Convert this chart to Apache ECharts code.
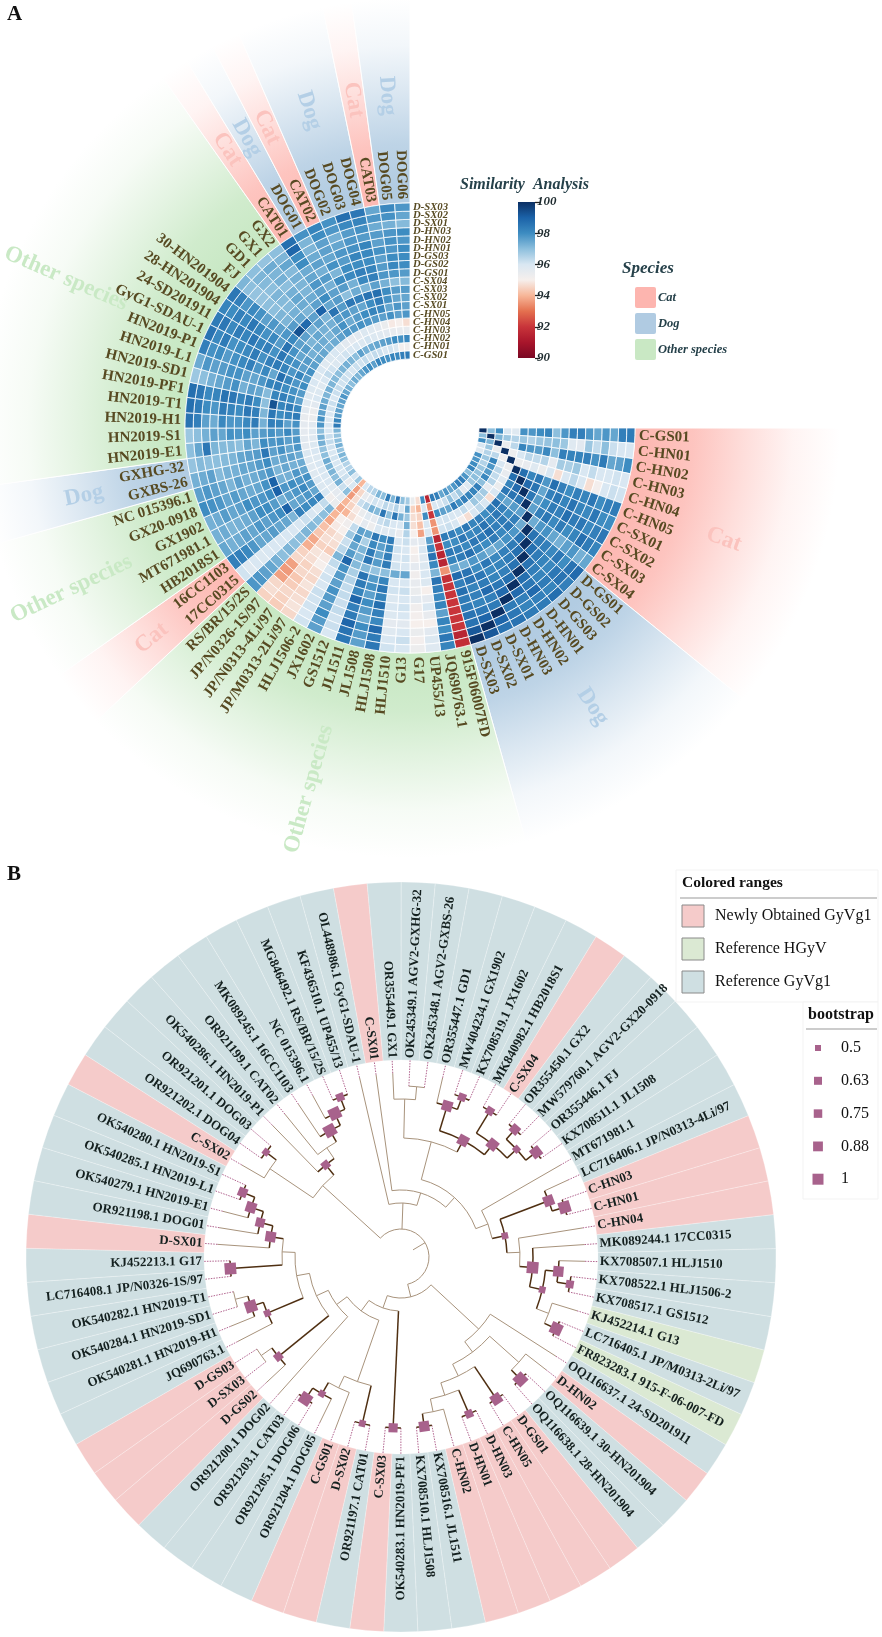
<!DOCTYPE html>
<html><head><meta charset="utf-8">
<style>html,body{margin:0;padding:0;background:#fff}#c{width:882px;height:1637px}</style>
<script src="https://cdn.jsdelivr.net/npm/echarts@6/dist/echarts.min.js"></script>
</head><body><div id="c"></div>
<script>
const rowNames=['C-GS01','C-HN01','C-HN02','C-HN03','C-HN04','C-HN05','C-SX01','C-SX02','C-SX03','C-SX04','D-GS01','D-GS02','D-GS03','D-HN01','D-HN02','D-HN03','D-SX01','D-SX02','D-SX03'];
const colNames=['C-GS01','C-HN01','C-HN02','C-HN03','C-HN04','C-HN05','C-SX01','C-SX02','C-SX03','C-SX04','D-GS01','D-GS02','D-GS03','D-HN01','D-HN02','D-HN03','D-SX01','D-SX02','D-SX03','915F06007FD','JQ690763.1','UP455/13','G17','G13','HLJ1510','HLJ1508','JL1508','JL1511','GS1512','JX1602','HLJ1506-2','JP/M0313-2Li/97','JP/N0313-4Li/97','JP/N0326-1S/97','RS/BR/15/2S','17CC0315','16CC1103','HB2018S1','MT671981.1','GX1902','GX20-0918','NC 015396.1','GXBS-26','GXHG-32','HN2019-E1','HN2019-S1','HN2019-H1','HN2019-T1','HN2019-PF1','HN2019-SD1','HN2019-L1','HN2019-P1','GyG1-SDAU-1','24-SD201911','28-HN201904','30-HN201904','FJ','GD1','GX1','GX2','CAT01','DOG01','CAT02','DOG02','DOG03','DOG04','CAT03','DOG05','DOG06'];
const simCols=[
[100,97,98,96,95.8,97.9,97.8,98,98.2,97,97.8,98.3,98.3,97.8,97.5,97.8,97.5,98.3,98.4],
[97,100,97.2,96.8,96.5,96.8,96.5,96.8,96.9,97,96.8,95.8,95.7,96.8,96.3,97,96.2,96,96],
[98,97.2,100,95.4,96.4,98.2,97.8,97.7,98.1,97,98.3,98.2,98.2,98.3,97.9,98.4,97.5,97.6,98],
[96,96.8,95.4,100,95.3,96,96.4,96.3,96.5,95.6,96.7,96.6,96.8,96,96.3,96,96,96.1,96],
[95.8,96.5,96.4,95.3,100,95.4,95.5,95.8,95.4,96,94.7,96,96.4,96,94.7,95.1,96,96.2,96.1],
[97.9,96.8,98.2,96,95.4,100,98.7,98.2,98.5,97.8,98.7,98.3,98,98.3,98.2,98.5,98,98.3,98.4],
[97.8,96.5,97.8,96.4,95.5,98.7,100,98.8,98.6,97.5,98.3,98.5,98.2,98.6,98.2,98.1,98.5,98,98],
[98,96.8,97.7,96.3,95.8,98.2,98.8,100,98.5,97.7,98,98.4,98.3,98.7,98.4,98.5,98.1,98.3,98.5],
[98.2,96.9,98.1,96.5,95.4,98.5,98.6,98.5,100,97.6,98.3,98.5,98.1,98.4,98,98.2,98.7,98.4,98.2],
[97,97,97,95.6,96,97.8,97.5,97.7,97.6,100,97.4,97.8,97.9,97.5,97.3,97.6,97.8,97.3,97.5],
[97.8,96.8,98.3,96.7,94.7,98.7,98.3,98,98.3,97.4,100,98.6,98.4,98.3,98.1,98.5,98,98.6,98.8],
[98.3,95.8,98.2,96.6,96,98.3,98.5,98.4,98.5,97.8,98.6,100,98.7,98.4,98.2,98.1,98.5,98.6,98.3],
[98.3,95.7,98.2,96.8,96.4,98,98.2,98.3,98.1,97.9,98.4,98.7,100,98.6,98.3,98.2,98.4,98.2,98.7],
[97.8,96.8,98.3,96,96,98.3,98.6,98.7,98.4,97.5,98.3,98.4,98.6,100,98.7,98.5,98.8,98.3,98.4],
[97.5,96.3,97.9,96.3,94.7,98.2,98.2,98.4,98,97.3,98.1,98.2,98.3,98.7,100,98.8,98.3,98.2,98.4],
[97.8,97,98.4,96,95.1,98.5,98.1,98.5,98.2,97.6,98.5,98.1,98.2,98.5,98.8,100,98.4,98.5,98.6],
[97.5,96.2,97.5,96,96,98,98.5,98.1,98.7,97.8,98,98.5,98.4,98.8,98.3,98.4,100,98.9,98.6],
[98.3,96,97.6,96.1,96.2,98.3,98,98.3,98.4,97.3,98.6,98.6,98.2,98.3,98.2,98.5,98.9,100,99.2],
[98.4,96,98,96,96.1,98.4,98,98.5,98.2,97.5,98.8,98.3,98.7,98.4,98.4,98.6,98.6,99.2,100],
[91.5,93.4,92,93.5,93.5,91.5,92,91.5,91.5,93.5,91.8,92,92,92,92,92,92,91.5,91.8],
[98,96,98,96,95.9,97.6,98.1,98.6,98.1,97.2,98.6,98.3,98.1,98.2,97.6,98.2,98,98.5,98.2],
[94.7,94,94.5,94.2,93.7,95.7,96,95.8,95.9,96,95.9,95,95.6,96,95.5,95,95.7,95.9,95.8],
[95.4,94.5,94.7,94.7,95,95.6,95,95.2,95.6,95.2,95.5,95.4,95.7,95.2,95.1,95,95.4,95.1,95.3],
[96.7,97.5,96.8,97.3,96.5,96.2,96,96.1,96,97.5,96,96.2,96,96.1,96,95.7,96,96.2,96],
[97,96,97.3,96,95.5,96,96.1,96,96.1,97.4,96,96.1,95.9,96,95.9,95.6,95.8,96,96.1],
[98.5,96.5,98.5,96,95.9,98.4,98.1,98.3,98.4,97,98.2,98.5,98.2,98.7,98.3,98.1,98.8,98.4,98.5],
[97.2,96.2,97,96.4,95.8,98,97.6,97.5,97.7,96.9,97.7,97.9,97.6,98,97.7,97.4,98,97.7,97.6],
[98.4,96.4,98.5,96.2,96,98.5,98.1,98.4,98.5,97.1,98.6,98.4,98.2,98.9,98.3,98.4,98.9,98.6,98.5],
[97,96,97.1,95.6,95.3,97.5,96.6,97.2,97.1,97.1,96.6,96.5,96.3,96.3,96.2,96.3,96.1,96.2,96],
[97.2,96.1,97.3,95.8,95.6,97.6,97.9,97.5,97.7,98.9,97.9,97.7,97.6,97.9,97.7,97.6,98,97.7,97.6],
[96.5,95.7,96.5,95.4,95,96.3,96.8,96.2,96.4,97.2,96.3,96,96.1,96,96.2,96.1,96.1,96,96.1],
[96.4,95.5,96.2,94.9,94.7,95.2,95,94.8,94.7,94.4,94.9,95,94.7,94.6,94.8,94.6,94.7,94.8,94.6],
[96,94.6,94.7,94.5,94,95,94.9,94.6,94.7,94.5,94.8,94.7,94.5,94.6,94.3,94.4,94.6,94.5,94.4],
[94,93.7,93.6,94,93.8,94,93.8,94.2,94.3,93.8,93.9,94.5,94.6,93.7,93.6,93.7,94.6,94.7,94.5],
[96.8,96,97,95.7,95.4,97.2,97,97,97.1,97.2,97,97,97.2,97,97.3,97.5,97.6,97.8,97.8],
[96,95.5,96.2,95.6,95.2,96.3,95.8,96,96.2,96,96,96,96,96,96,95.9,96,95.8,96.1],
[97,96.2,97.3,95.8,96,98.3,98.1,98,98.3,97.2,97.5,97.5,97.7,97.5,97.5,97.8,98.1,98.3,98.3],
[96.5,96,97,96,95.9,97.5,97.8,97.6,97.5,99,98,97.8,97.6,97.8,97.5,97.6,97.4,97.3,97.5],
[96.5,96.1,97.2,96,96,97.7,98.1,97.8,97.6,97.3,97.7,98,98,97.6,97.4,97.3,97.2,97.4,97.3],
[97,96,97.2,96,95.8,97.9,97.8,98,97.8,99,98,97.8,97.8,98,97.6,97.5,97.7,97.4,97.3],
[97.2,96.1,97.4,96,95.8,97.5,97.8,97.3,97.3,99,97.9,97.5,97.4,97.5,97.7,97.5,97.8,97.9,98],
[96.9,96,97,95.9,95.9,97.4,97.3,97.5,97.2,97.8,97.6,97.4,97.3,97.6,97.2,97.5,97.6,97.8,97.6],
[97.3,96.1,96.9,96,95.9,97.4,97.6,97.5,97.4,98,97.7,97.5,97.5,97.3,97.3,97.1,97.6,97.4,97.3],
[97,96.3,97.3,95.9,95.7,97.8,97.5,97.9,97.6,98.5,97.7,97.6,97.5,97.2,97.1,97,97,97.1,96.9],
[96.9,96.2,97.3,95.8,95.7,97.8,97.6,97.9,97.8,98,97.2,97.5,97,97.1,97.1,97.2,98.5,97.5,97],
[97.2,96,97,95.8,95.6,97.7,98.1,97.7,97.9,97.7,97.6,98,97.8,97.9,97.5,97.6,97.3,97,96.8],
[98.4,96,97.8,95.7,95.6,97.9,97.6,98.2,98.3,97.3,98.4,98.1,97.8,97.8,98.1,97.4,97.6,98.3,98.6],
[98.2,95.9,97.9,95.4,95.5,98.4,98.2,98,98.5,97.2,98.3,98.5,98,98.2,98.4,97.8,98,98.4,98.7],
[97.7,96,97.6,95.4,95.7,98.1,98.4,98.2,99.3,97,98,98.4,98.2,98.5,98.6,98.2,98.1,98.5,98.7],
[97.6,96.1,97.6,95.7,95.8,97.6,98,98.3,98.2,97.1,97.5,97.6,97.3,97.9,97.7,97.5,97.3,97,96.8],
[97.5,96.2,97.4,96,95.8,97.7,97.9,98,98.3,98.2,97.8,97.5,97.6,97.9,97.9,97.7,97.6,97.8,97.4],
[97.6,96,97.2,95.9,95.9,98,97.8,98.2,98.7,97.5,98.1,97.8,98.3,98.1,97.9,97.7,98,97.9,98.3],
[97.8,96.2,97.3,95.8,96,97.7,98.2,97.8,98.2,98.4,98.3,97.9,98.4,98.1,98,97.9,98.4,98.1,98.6],
[97.5,96.3,97.2,96,95.9,97.9,97.6,97.9,98,98.5,97.9,98.3,98.2,98.5,98.2,98.4,98.1,98.5,98.4],
[97.3,96.1,97.1,96.3,96,97.6,97.7,97.5,97.9,98.6,97.7,98.1,97.9,98.2,98.5,98.1,98.3,98,98.2],
[97,96.2,97,96.1,95.8,97.5,97.3,97.7,97.6,98.1,97.8,97.6,97.8,97.6,97.9,98.1,97.8,98.3,98.5],
[97.4,96.1,97.2,95.9,95.9,97.5,97.4,97.2,97.6,99.3,97.7,97.2,97.2,97,97,96.9,96.9,97,97.2],
[97.2,96,97.3,96,96,97.3,97.4,97.5,97.3,98.8,97.5,97.3,97.1,97.1,97.2,97,97.1,97.2,97],
[97.5,96.2,97.2,96.1,95.8,97.4,97.2,97.3,97.6,97.6,97.2,97.4,97.5,97.3,97,97.3,97.2,97.4,96.9],
[97.8,96.1,97,96,95.7,97.6,97.5,97.3,97.2,99,97.6,97.4,97.2,97.2,97.3,97.1,97.5,97.2,97],
[98,96.3,97.6,96,95.6,97.8,97.9,97.7,98.6,97.5,98,97.6,97.8,97.5,97.4,98,98,98.9,98.7],
[97.6,96.1,97.3,95.9,95.7,97.7,97.4,97.8,97.7,97.7,97.6,97.3,97.7,97.3,97.6,97.4,97.2,97.2,97.9],
[98.2,96.3,97.4,96.1,95.9,97.9,97.7,97.6,98.5,97,97.7,98,97.2,97.9,97.5,97.6,97.6,98,98.2],
[98,96.2,97.5,95.9,95.8,97.8,98,97.5,98.3,97.4,97.3,98.1,98,97.7,97.8,97.5,97.3,97.8,97.9],
[97.9,96,97.6,95.8,95.7,97.7,98.2,98,98.6,97.2,98.1,98.3,98,98.2,97.9,97.8,97.7,98.1,98.7],
[98.2,96.1,97.7,95.7,95.4,97.6,98.1,98.4,98.7,97.6,98.3,98.2,98,98.1,98.2,97.7,97.9,98.2,98.5],
[98.1,95.9,98,95.5,94.9,97.9,97.5,97.9,98,97.3,97.8,97.7,97.6,97.9,97.6,97.7,97.4,97.8,97.5],
[98.3,95.1,97.9,95.5,95,97.6,97.8,97.5,97.7,97,97.8,98.1,98,97.8,97.9,97.8,97.3,97.9,98.1],
[98.4,95.2,98.1,95.5,94.7,97.8,97.6,97.5,97.7,97.1,97.7,98,98,98,97.8,98,97.1,97.5,97.8]
];
const groupNames=['Cat','Dog','Other species','Cat','Other species','Dog','Other species','Cat','Dog','Cat','Dog','Cat','Dog'];
const groupFirstCol=[0,10,19,35,37,42,44,60,61,62,63,66,67];
const groupLastCol=[9,18,34,36,41,43,59,60,61,62,65,66,68];
const colorbarTicks={min:90,max:100,step:2};
const leafNames=['C-SX01','OR355449.1 GX1','OK245349.1 AGV2-GXHG-32','OK245348.1 AGV2-GXBS-26','OR355447.1 GD1','MW404234.1 GX1902','KX708519.1 JX1602','MK840982.1 HB2018S1','C-SX04','OR355450.1 GX2','MW579760.1 AGV2-GX20-0918','OR355446.1 FJ','KX708511.1 JL1508','MT671981.1','LC716406.1 JP/N0313-4Li/97','C-HN03','C-HN01','C-HN04','MK089244.1 17CC0315','KX708507.1 HLJ1510','KX708522.1 HLJ1506-2','KX708517.1 GS1512','KJ452214.1 G13','LC716405.1 JP/M0313-2Li/97','FR823283.1 915-F-06-007-FD','OQ116637.1 24-SD201911','D-HN02','OQ116639.1 30-HN201904','OQ116638.1 28-HN201904','D-GS01','C-HN05','D-HN03','D-HN01','C-HN02','KX708516.1 JL1511','KX708510.1 HLJ1508','OK540283.1 HN2019-PF1','C-SX03','OR921197.1 CAT01','D-SX02','C-GS01','OR921204.1 DOG05','OR921205.1 DOG06','OR921203.1 CAT03','OR921200.1 DOG02','D-GS02','D-SX03','D-GS03','JQ690763.1','OK540281.1 HN2019-H1','OK540284.1 HN2019-SD1','OK540282.1 HN2019-T1','LC716408.1 JP/N0326-1S/97','KJ452213.1 G17','D-SX01','OR921198.1 DOG01','OK540279.1 HN2019-E1','OK540285.1 HN2019-L1','OK540280.1 HN2019-S1','C-SX02','OR921202.1 DOG04','OR921201.1 DOG03','OK540286.1 HN2019-P1','OR921199.1 CAT02','MK089245.1 16CC1103','NC 015396.1','MG846492.1 RS/BR/15/2S','KF436510.1 UP455/13','OL448986.1 GyG1-SDAU-1'];
const hgyvLeaves=['KJ452214.1 G13','FR823283.1 915-F-06-007-FD'];
// tree: [bootstrap, child, child...] ; integer child = index into leafNames; bootstrap 0 = not shown
const cladeT=[0,[0,59,[.5,60,61]],[.63,62,[0,63,[1,64,[1,65,[.63,66,67]]]]]];
const cladeUp=[0,[0,[0,1,[0,2,3]],[.88,[.88,4,[.63,5,6]],[.88,[.63,7,8],[.5,[.75,9,10],[.88,11,12]]]]],[0,13,[.5,[.88,14,[1,15,16]],[0,17,[1,18,[.5,[.88,19,[.63,20,21]],[0,22,[1,23,24]]]]]]]];
const cladeRight=[0,25,[0,[0,26,[1,27,28]],[0,[.88,29,30],[0,[.63,31,32],[0,33,[.88,34,35]]]]]];
const cladeLeft=[0,44,[0,[.63,45,[0,46,47]],[0,[.5,48,[1,49,[0,50,51]]],[0,[1,52,53],[.88,54,[.75,55,[.88,56,[.75,57,58]]]]]]]];
const cladeDown=[0,[.75,36,37],[0,[0,[.5,38,39],[0,40,[.5,41,[1,42,43]]]],cladeLeft]];
const treeRoot=[0,cladeT,[0,68,[0,0,cladeUp]],[0,cladeRight,cladeDown]];
const bootstrapLevels=[0.5,0.63,0.75,0.88,1];
const rangeLegend=['Newly Obtained GyVg1','Reference HGyV','Reference GyVg1'];
const speciesLegend=['Cat','Dog','Other species'];

const SERIF='"Liberation Serif","Times New Roman",serif';
const heatColors=['#7a0723','#a8152b','#c8343a','#e4704f','#f7b698','#f6efec','#d9e7f2','#8dbfdd','#3d8cc1','#1b62a8','#0b2f63'];
const speciesColor={Cat:'253,186,180',Dog:'178,204,226','Other species':'200,232,196'};
const speciesText={Cat:'#fbc3be',Dog:'#b4cfe6','Other species':'#c9e9c5'};
const rangeColor=['#f5cbca','#dbe9d3','#cfdfe2'];
const CX=410,CY=428,GROUPR=430;

const heatData=[];
simCols.forEach((col,c)=>col.forEach((v,r)=>heatData.push([r,c,v])));
const angleSlots=colNames.concat(Array.from({length:23},(_,i)=>' '.repeat(i+1)));

function radialText(text,x,y,thetaDeg,font,fill){
  const flip=thetaDeg>90&&thetaDeg<270;
  const a=flip?'right':'left';
  const rot=(flip?thetaDeg-180:thetaDeg)*Math.PI/180;
  return {type:'text',x:x,y:y,rotation:-rot,silent:true,
    style:{text:text,font:font,fill:fill,align:a,textAlign:a,verticalAlign:'middle',textVerticalAlign:'middle'}};
}
function centerText(text,x,y,thetaDeg,font,fill){
  const flip=thetaDeg>90&&thetaDeg<270;
  const rot=(flip?thetaDeg-180:thetaDeg)*Math.PI/180;
  return {type:'text',x:x,y:y,rotation:-rot,silent:true,
    style:{text:text,font:font,fill:fill,align:'center',textAlign:'center',verticalAlign:'middle',textVerticalAlign:'middle'}};
}

// flatten tree
const segs=[],marks=[];
function height(n){return typeof n==='number'?0:1+Math.max(...n.slice(1).map(height));}
const nodeR=n=>171-13*(height(n)-1);
const leafPos=i=>(i<59?i+69:i)+0.5;
function walk(n,parentR){
  if(typeof n==='number'){
    const p=leafPos(n);
    const tip=parentR>=171?171:184;
    if(tip>parentR)segs.push({k:'r',p:p,r1:parentR,r2:tip,dark:false});
    segs.push({k:'r',p:p,r1:tip,r2:197,dot:true});
    return p;
  }
  const r=nodeR(n),sup=n[0];
  const ps=n.slice(1).map(c=>walk(c,r));
  const mid=(ps[0]+ps[ps.length-1])/2;
  segs.push({k:'a',r:r,p1:ps[0],p2:ps[ps.length-1],dark:sup>0});
  segs.push({k:'r',p:mid,r1:parentR,r2:r,dark:sup>0});
  if(sup>0)marks.push({p:mid,r:r,s:sup});
  return mid;
}
walk(treeRoot,14);

const supSize=v=>6+(v-0.5)*10;

const option={
  animation:false,
  backgroundColor:'#fff',
  textStyle:{fontFamily:SERIF},
  polar:[
    {center:[CX,CY],radius:[69,225]},
    {center:[401,1257],radius:[0,375]}
  ],
  radiusAxis:[
    {polarIndex:0,type:'category',data:rowNames,show:false},
    {polarIndex:1,type:'value',min:0,max:375,show:false}
  ],
  angleAxis:[
    {polarIndex:0,type:'category',data:angleSlots,startAngle:0,clockwise:true,show:false},
    {polarIndex:1,type:'value',min:0,max:69,startAngle:100.4,clockwise:true,show:false}
  ],
  grid:{left:518,top:202,width:17,height:156,containLabel:false},
  xAxis:{type:'category',data:[''],show:false},
  yAxis:{type:'value',position:'right',min:colorbarTicks.min,max:colorbarTicks.max,interval:colorbarTicks.step,
    axisLine:{show:false},splitLine:{show:false},
    axisTick:{show:true,length:5,lineStyle:{color:'#222',width:1.3}},
    axisLabel:{margin:2,color:'#1d2a2e',fontFamily:SERIF,fontStyle:'italic',fontWeight:'bold',fontSize:13}},
  visualMap:{show:false,seriesIndex:1,dimension:2,min:90,max:100,inRange:{color:heatColors}},
  series:[
    {type:'custom',coordinateSystem:'polar',polarIndex:0,silent:true,z:1,
     data:groupNames.map((g,i)=>({name:g,value:[0,groupFirstCol[i]]})),
     renderItem(params,api){
       const i=params.dataIndex,g=groupNames[i];
       const a=api.coord([0,groupFirstCol[i]]),b=api.coord([0,groupLastCol[i]]);
       const size=api.size([1,1],[0,groupFirstCol[i]]);
       const c=speciesColor[g];
       return {type:'sector',
         shape:{cx:params.coordSys.cx,cy:params.coordSys.cy,r0:225,r:GROUPR,startAngle:-a[3]-size[1]/2,endAngle:-b[3]+size[1]/2},
         style:{stroke:'#fff',lineWidth:1,fill:new echarts.graphic.RadialGradient(CX,CY,GROUPR,[
           {offset:0,color:`rgba(${c},1)`},{offset:.56,color:`rgba(${c},1)`},{offset:.66,color:`rgba(${c},.85)`},
           {offset:.78,color:`rgba(${c},.48)`},{offset:.89,color:`rgba(${c},.16)`},{offset:1,color:`rgba(${c},0)`}],true)}};
     }},
    {type:'custom',coordinateSystem:'polar',polarIndex:0,silent:true,z:3,
     data:heatData,encode:{radius:0,angle:1},
     renderItem(params,api){
       const v=[api.value(0),api.value(1)];
       const co=api.coord(v),s=api.size([1,1],v);
       return {type:'sector',
         shape:{cx:params.coordSys.cx,cy:params.coordSys.cy,r0:co[2]-s[0]/2,r:co[2]+s[0]/2,startAngle:-co[3]-s[1]/2,endAngle:-co[3]+s[1]/2},
         style:{fill:api.visual('color'),stroke:'#fff',lineWidth:.8}};
     }},
    {type:'custom',coordinateSystem:'polar',polarIndex:0,silent:true,z:4,
     data:colNames.map((n,i)=>({name:n,value:[18,i]})),
     renderItem(params,api){
       const co=api.coord([18,params.dataIndex]);
       const th=-co[3];
       const deg=((th*180/Math.PI)%360+360)%360;
       return radialText(colNames[params.dataIndex],CX+229*Math.cos(th),CY+229*Math.sin(th),deg,'bold 15px '+SERIF,'#574a22');
     }},
    {type:'custom',coordinateSystem:'polar',polarIndex:0,silent:true,z:4,
     data:rowNames.map((n,i)=>({name:n,value:[i,0]})),
     renderItem(params,api){
       const co=api.coord([params.dataIndex,0]);
       return radialText(rowNames[params.dataIndex],CX+3,CY-co[2],0,'italic bold 10.7px '+SERIF,'#574a22');
     }},
    {type:'custom',coordinateSystem:'polar',polarIndex:0,silent:true,z:4,
     data:groupNames.map((g,i)=>({name:g,value:[0,groupFirstCol[i]]})),
     renderItem(params,api){
       const i=params.dataIndex,g=groupNames[i];
       const a=api.coord([0,groupFirstCol[i]]),b=api.coord([0,groupLastCol[i]]);
       const th=-(a[3]+b[3])/2;
       const deg=((th*180/Math.PI)%360+360)%360;
       const r=g==='Other species'?375:333;
       return centerText(g,CX+r*Math.cos(th),CY+r*Math.sin(th),deg,'bold 23px '+SERIF,speciesText[g]);
     }},
    {type:'bar',data:[100],barWidth:'100%',silent:true,z:3,xAxisIndex:0,yAxisIndex:0,
     itemStyle:{color:new echarts.graphic.LinearGradient(0,1,0,0,heatColors.map((c,i)=>({offset:i/10,color:c})))}},
    {type:'custom',coordinateSystem:'polar',polarIndex:1,silent:true,z:1,
     data:leafNames.map((n,i)=>({name:n,value:[375,i+.5]})),
     renderItem(params,api){
       const i=params.dataIndex,n=leafNames[i];
       const co=api.coord([375,i+.5]),s=api.size([1,1],[375,i+.5]);
       const idx=/^[CD]-/.test(n)?0:(hgyvLeaves.includes(n)?1:2);
       return {type:'sector',shape:{cx:params.coordSys.cx,cy:params.coordSys.cy,r0:197,r:375,startAngle:-co[3]-s[1]/2,endAngle:-co[3]+s[1]/2},
         style:{fill:rangeColor[idx],stroke:'rgba(255,255,255,.35)',lineWidth:.7}};
     }},
    {type:'custom',coordinateSystem:'polar',polarIndex:1,silent:true,z:3,
     data:segs.map((s,i)=>[0,i]),
     renderItem(params,api){
       const s=segs[params.dataIndex];
       const col=s.dark?'#4f2f12':'#a8937c',lw=s.dark?1.5:1;
       if(s.k==='a'){
         const a=api.coord([s.r,s.p1]),b=api.coord([s.r,s.p2]);
         return {type:'arc',shape:{cx:params.coordSys.cx,cy:params.coordSys.cy,r:s.r,startAngle:-a[3],endAngle:-b[3],clockwise:true},
           style:{stroke:col,lineWidth:lw,fill:'none'}};
       }
       const a=api.coord([s.r1,s.p]),b=api.coord([s.r2,s.p]);
       return {type:'line',shape:{x1:a[0],y1:a[1],x2:b[0],y2:b[1]},
         style:s.dot?{stroke:'#b2648f',lineWidth:1,lineDash:[1.5,1.2]}:{stroke:col,lineWidth:lw}};
     }},
    {type:'custom',coordinateSystem:'polar',polarIndex:1,silent:true,z:4,
     data:marks.map(m=>[m.r,m.p,m.s]),
     renderItem(params,api){
       const m=marks[params.dataIndex],co=api.coord([m.r,m.p]),w=supSize(m.s)+.6;
       return {type:'rect',x:co[0],y:co[1],rotation:co[3],shape:{x:-w/2,y:-w/2,width:w,height:w},style:{fill:'#a8628c'}};
     }},
    {type:'custom',coordinateSystem:'polar',polarIndex:1,silent:true,z:5,
     data:leafNames.map((n,i)=>({name:n,value:[198,i+.5]})),
     renderItem(params,api){
       const i=params.dataIndex,co=api.coord([199,i+.5]);
       const deg=((-co[3]*180/Math.PI)%360+360)%360;
       return radialText(leafNames[i],co[0],co[1],deg,'bold 13px '+SERIF,'#14201f');
     }}
  ],
  graphic:{elements:[]}
};

const G=option.graphic.elements;
const txt=(t,x,y,font,fill)=>G.push({type:'text',x:x,y:y,silent:true,style:{text:t,font:font,fill:fill,textVerticalAlign:'middle',verticalAlign:'middle'}});
txt('A',7,15,'bold 21px '+SERIF,'#111');
txt('B',7,875,'bold 21px '+SERIF,'#111');
txt('Similarity  Analysis',460,185,'italic bold 16px '+SERIF,'#26414a');
txt('Species',622,269,'italic bold 17px '+SERIF,'#26414a');
const spFill=['#fdb5af','#b0cbe2','#c9e8c4'];
speciesLegend.forEach((s,i)=>{
  G.push({type:'rect',silent:true,shape:{x:635,y:287+i*26,width:21,height:21,r:2},style:{fill:spFill[i]}});
  txt(s,658,298+i*26,'italic bold 12.5px '+SERIF,'#26414a');
});
// panel B legends
G.push({type:'rect',silent:true,shape:{x:676,y:870,width:202,height:132},style:{fill:'#fff',stroke:'#f3f3f3',lineWidth:1},z:10});
G.push({type:'rect',silent:true,shape:{x:803,y:1002,width:75,height:197},style:{fill:'#fff',stroke:'#f3f3f3',lineWidth:1},z:10});
function ztxt(t,x,y,font,fill){G.push({type:'text',z:11,x:x,y:y,silent:true,style:{text:t,font:font,fill:fill,textVerticalAlign:'middle',verticalAlign:'middle'}});}
ztxt('Colored ranges',682,883,'bold 15.5px '+SERIF,'#111');
G.push({type:'line',z:11,silent:true,shape:{x1:680,y1:898,x2:877,y2:898},style:{stroke:'#999',lineWidth:1.2}});
rangeLegend.forEach((s,i)=>{
  G.push({type:'rect',z:11,silent:true,shape:{x:682,y:905+i*33,width:22,height:22},style:{fill:rangeColor[i],stroke:'#8a8a8a',lineWidth:1}});
  ztxt(s,715,916+i*33,'16px '+SERIF,'#111');
});
ztxt('bootstrap',808,1015,'bold 16px '+SERIF,'#111');
G.push({type:'line',z:11,silent:true,shape:{x1:806,y1:1029,x2:877,y2:1029},style:{stroke:'#999',lineWidth:1.2}});
bootstrapLevels.forEach((v,i)=>{
  const y=1048+i*32.8,w=supSize(v)+(v===.63?.7:0);
  G.push({type:'rect',z:11,silent:true,shape:{x:818-w/2,y:y-w/2,width:w,height:w},style:{fill:'#a8628c'}});
  ztxt(String(v),841,y,'16px '+SERIF,'#111');
});

const chart=echarts.init(document.getElementById('c'),null,{renderer:'canvas',width:882,height:1637});
chart.setOption(option);
</script></body></html>
